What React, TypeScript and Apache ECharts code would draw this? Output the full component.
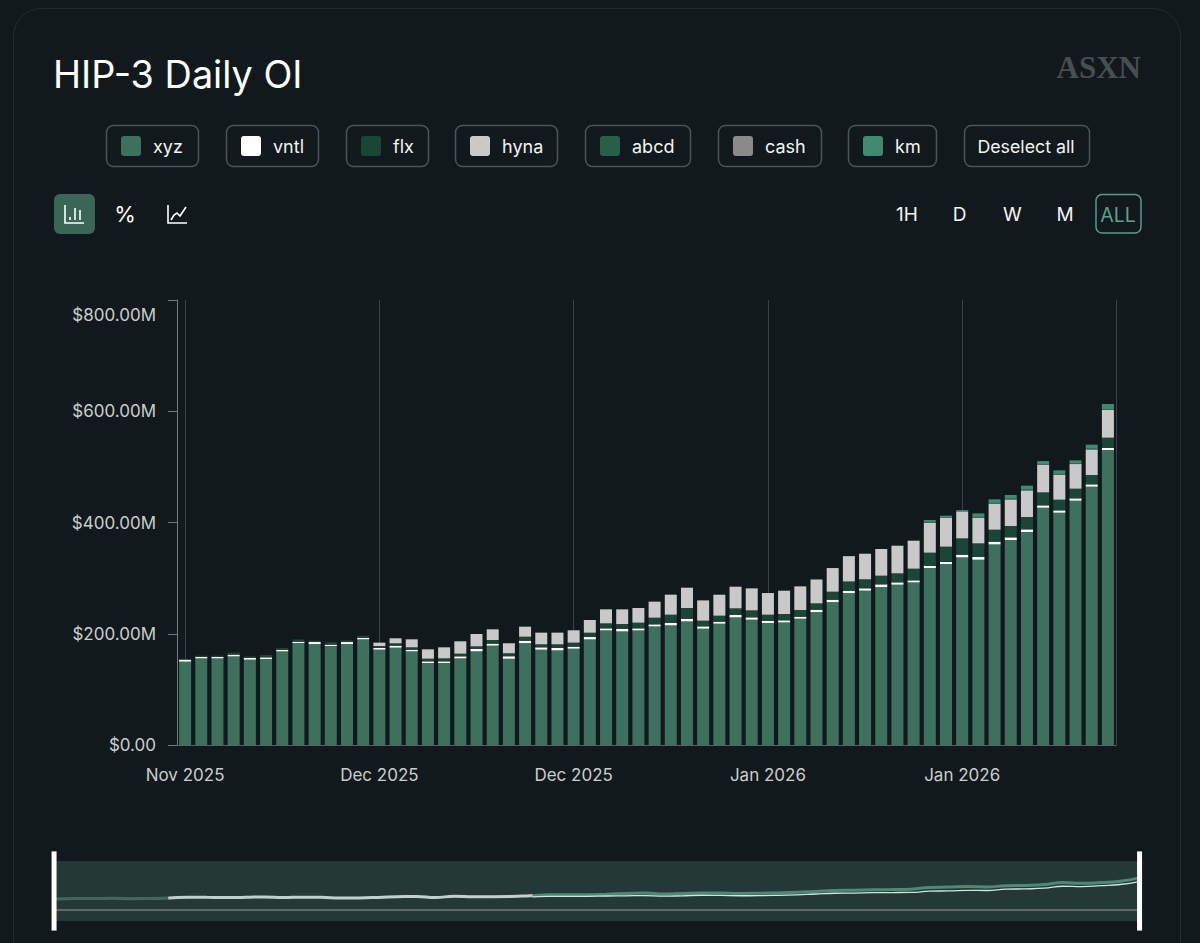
import { useEffect, useRef } from "react";
import * as echarts from "echarts";

// one entry per day, the axis only prints the month
const DATES = [
  "2025-11-28", "2025-11-29", "2025-11-30", "2025-12-01", "2025-12-02", "2025-12-03", "2025-12-04", "2025-12-05",
  "2025-12-06", "2025-12-07", "2025-12-08", "2025-12-09", "2025-12-10", "2025-12-11", "2025-12-12", "2025-12-13",
  "2025-12-14", "2025-12-15", "2025-12-16", "2025-12-17", "2025-12-18", "2025-12-19", "2025-12-20", "2025-12-21",
  "2025-12-22", "2025-12-23", "2025-12-24", "2025-12-25", "2025-12-26", "2025-12-27", "2025-12-28", "2025-12-29",
  "2025-12-30", "2025-12-31", "2026-01-01", "2026-01-02", "2026-01-03", "2026-01-04", "2026-01-05", "2026-01-06",
  "2026-01-07", "2026-01-08", "2026-01-09", "2026-01-10", "2026-01-11", "2026-01-12", "2026-01-13", "2026-01-14",
  "2026-01-15", "2026-01-16", "2026-01-17", "2026-01-18", "2026-01-19", "2026-01-20", "2026-01-21", "2026-01-22",
  "2026-01-23", "2026-01-24",
];

const XYZ = [
  149.8, 155.8, 155.8, 159.4, 153.4, 154.6, 168.4, 183.3, 181.5, 178, 181.5, 190, 171.4, 175, 168.4, 147.4, 147.4, 155.8, 168.4, 178.6,
  155.2, 183.3, 171.4, 170.2, 173.2, 189.9, 206.1, 204.3, 206.1, 213.3, 215.1, 222.3, 209.1, 218.1, 229.5, 225.3, 219.3, 220.5, 227.1,
  239, 257, 273, 277.5, 284, 288.2, 292.4, 318.2, 325.4, 337.3, 333.1, 360.7, 368.5, 382.9, 426.6, 417.6, 439.2, 464.4, 530.3,
];
const VNTL = [
  3.6, 2.4, 2.4, 3, 3, 3, 2.4, 2.4, 3.6, 2.4, 3.6, 2.4, 3, 3.6, 3, 3, 3, 3.6, 4.2, 3.6,
  4.2, 4.2, 4.2, 4.2, 3.6, 4.2, 3.6, 4.2, 3.6, 3.6, 4.2, 4.2, 4.2, 3.6, 4.2, 4.2, 3.6, 3.6, 3.6,
  4.2, 4.2, 4.2, 4.2, 4.8, 4.2, 3.6, 3.6, 3.6, 4.8, 4.8, 4.8, 4.8, 4.8, 4.2, 4.2, 4.2, 4.2, 3.6,
];
const FLX = [
  0.6, 2.4, 2.4, 3.6, 3, 4.2, 3.6, 4.2, 2.4, 4.2, 3, 4.2, 3.6, 4.2, 4.2, 4.8, 5.4, 4.8, 4.8, 6.6,
  5.4, 7.2, 5.4, 6.6, 7.2, 7.8, 9, 9, 10.2, 12, 15, 19.8, 10.2, 10.8, 12, 12.6, 11.4, 11.4, 12,
  11.4, 14.4, 16.8, 16.2, 15.6, 16.2, 21, 24, 27.6, 29.4, 24.6, 21.6, 20.4, 22.2, 23.4, 19.2, 17.4, 16.8, 18.6,
];
const HYNA = [
  0, 0, 0, 0, 0, 0, 0, 0, 0, 0, 0, 0, 6, 9, 14.4, 16.8, 19.8, 22.2, 22.2, 19.2,
  18, 18, 21, 21, 22.2, 22.8, 25.2, 26.4, 26.4, 28.8, 36, 36.5, 36.5, 37.7, 38.9, 39.5, 38.9, 41.9, 42.5,
  43, 42.5, 45.5, 46, 48, 49.7, 50.3, 53.9, 52.1, 48.5, 46.1, 46.7, 47.9, 47.9, 49.7, 44.9, 44.3, 46.1, 49.7,
];
const ABCD = [
  0, 0, 0, 0, 0, 0, 0, 0, 0, 0, 0, 0, 0, 0, 0, 0, 0, 0, 0, 0,
  0, 0, 0, 0, 0, 0, 0, 0, 0, 0, 0, 0, 0, 0, 0, 0, 0, 0, 0,
  0, 0, 0, 0, 0, 0, 0, 0.8, 0.6, 0.4, 0.8, 0.8, 0.8, 0.8, 0.6, 0.8, 0.6, 0.8, 0.8,
];
const CASH = [
  0, 0, 0, 0, 0, 0, 0, 0, 0, 0, 0, 0, 0, 0, 0, 0, 0, 0, 0, 0,
  0, 0, 0, 0, 0, 0, 0, 0, 0, 0, 0, 0, 0, 0, 0, 0, 0, 0, 0,
  0, 0, 0, 0, 0, 0, 0, 0.6, 0.6, 0.4, 0.6, 0.6, 0.6, 0.6, 0.6, 0.6, 0.6, 0.6, 0.6,
];
const KM = [
  0, 0, 0, 0, 0, 0, 0, 0, 0, 0, 0, 0, 0, 0, 0, 0, 0, 0, 0, 0,
  0, 0, 0, 0, 0, 0, 0, 0, 0, 0, 0, 0, 0, 0, 0, 0, 0, 0, 0,
  0, 0, 0, 0, 0, 0, 0, 3.4, 2.4, 1.6, 6.4, 6.4, 6.4, 7, 5.4, 6.4, 5.4, 7, 9.4,
];

const NAMES = ["xyz", "vntl", "flx", "hyna", "abcd", "cash", "km"];
const VALUES = [XYZ, VNTL, FLX, HYNA, ABCD, CASH, KM];
const COLORS = ["#3d705d", "#ffffff", "#1b4534", "#c9c9c9", "#285f4a", "#8a8a8a", "#3f8a70"];

const Y_TICKS = ["$0.00", "$200.00M", "$400.00M", "$600.00M", "$800.00M"];
const RANGES = ["1H", "D", "W", "M"];
const MONTHS = ["Jan", "Feb", "Mar", "Apr", "May", "Jun", "Jul", "Aug", "Sep", "Oct", "Nov", "Dec"];

const FONT = "Inter, 'Noto Sans', sans-serif";
const BG = "#11191c";
const LABEL = "#c9cecd";
const CHIP_BORDER = "#4c5355";
const GRID_LINE = "#3b4144";

// left and right edge of each legend chip
const CHIP_EDGES = [
  [106, 198], [226, 318], [346, 428], [455, 557], [585, 690], [718, 821], [848, 936],
];

function sumAt(series: number[][], i: number) {
  return series.reduce((acc, s) => acc + s[i], 0);
}

function monthLabel(date: string) {
  const [year, month] = date.split("-");
  return `${MONTHS[Number(month) - 1]} ${year}`;
}

function text(str: string, x: number, y: number, size: number, fill: string, align = "center", font = FONT, weight = 400) {
  return {
    type: "text",
    x,
    y,
    style: {
      text: str,
      fill,
      font: `${weight} ${size}px ${font}`,
      textAlign: align,
      textVerticalAlign: "middle",
    },
  };
}

function chip(x0: number, x1: number) {
  return {
    type: "rect",
    shape: { x: x0 + 0.5, y: 125.5, width: x1 - x0, height: 41, r: 7 },
    style: { fill: "transparent", stroke: CHIP_BORDER, lineWidth: 1.5 },
  };
}

function iconLine(points: number[][], width = 1.6) {
  return {
    type: "polyline",
    shape: { points },
    style: { stroke: "#ffffff", fill: "none", lineWidth: width },
  };
}

function buildGraphics() {
  const els: any[] = [
    {
      type: "rect",
      shape: { x: 13.5, y: 8.5, width: 1167, height: 1000, r: 28 },
      style: { fill: "transparent", stroke: "#242c2f", lineWidth: 1 },
    },
    text("HIP-3 Daily OI", 53, 74, 37.8, "#ffffff", "left"),
    text("ASXN", 1141, 67, 31, "#474f51", "right", "'Liberation Serif', serif", 700),
  ];

  NAMES.forEach((name, i) => {
    const [x0, x1] = CHIP_EDGES[i];
    els.push(chip(x0, x1));
    els.push({
      type: "rect",
      shape: { x: x0 + 15, y: 136, width: 20, height: 20, r: 3 },
      style: { fill: COLORS[i] },
    });
    els.push(text(name, x0 + 47, 146.5, 18, "#f2f4f3", "left"));
  });
  els.push(chip(964, 1089));
  els.push(text("Deselect all", 1026, 146.5, 17.8, "#f2f4f3"));

  // chart type buttons
  els.push({
    type: "rect",
    shape: { x: 54, y: 194, width: 41, height: 40, r: 6 },
    style: { fill: "#3a6658" },
  });
  els.push(iconLine([[65, 205], [65, 223], [84, 223]]));
  els.push(iconLine([[70, 217], [70, 220]]));
  els.push(iconLine([[75, 208], [75, 220]]));
  els.push(iconLine([[80, 210], [80, 220]]));
  els.push(text("%", 125, 214, 22, "#ffffff"));
  els.push(iconLine([[168, 205], [168, 223], [187, 223]]));
  els.push(iconLine([[171, 220], [174, 215], [177, 213], [180, 216], [182, 213], [186, 207]]));

  // time range buttons
  RANGES.forEach((r, i) => {
    els.push(text(r, 907 + i * 52.7, 214.5, 19, "#f2f4f3"));
  });
  els.push({
    type: "rect",
    shape: { x: 1096, y: 194.5, width: 45, height: 38.5, r: 6 },
    style: { fill: "transparent", stroke: "#5b9a86", lineWidth: 1.5 },
  });
  els.push(text("ALL", 1118, 214.5, 19.5, "#5fa08c"));

  // flat line across the overview strip
  els.push({
    type: "rect",
    z: 1,
    shape: { x: 56, y: 909, width: 1083, height: 2 },
    style: { fill: "#5d6a67" },
  });
  return els;
}

export default function App() {
  const chartRef = useRef<HTMLDivElement>(null);

  useEffect(() => {
    if (!chartRef.current) return;
    const chart = echarts.init(chartRef.current, null, { renderer: "svg" });

    const below = DATES.map((_, i) => sumAt([XYZ, VNTL], i));
    const total = DATES.map((_, i) => sumAt(VALUES, i));

    chart.setOption({
      animation: false,
      backgroundColor: BG,
      graphic: buildGraphics(),
      grid: [
        { left: 177, right: 84, top: 300, bottom: 198 },
        { left: 55, right: 61, top: 861, height: 60, show: true, backgroundColor: "#243835", borderWidth: 0 },
      ],
      xAxis: [
        {
          type: "category",
          data: DATES,
          axisLine: { lineStyle: { color: "#5a6163" } },
          axisTick: { show: false },
          axisLabel: {
            interval: (i: number) => i % 12 === 0 && i < 57,
            color: LABEL,
            fontFamily: FONT,
            fontSize: 17,
            margin: 21,
            formatter: monthLabel,
          },
          splitLine: {
            show: true,
            alignWithLabel: true,
            interval: (i: number) => i % 12 === 0 && i < 57,
            lineStyle: { color: GRID_LINE, width: 1 },
          },
        },
        { type: "category", gridIndex: 1, data: DATES, boundaryGap: false, show: false },
      ],
      yAxis: [
        {
          type: "value",
          min: 0,
          max: 800,
          interval: 200,
          axisLine: { show: true, lineStyle: { color: "#747a7c" } },
          axisTick: { show: true, length: 9, lineStyle: { color: "#747a7c" } },
          axisLabel: {
            color: LABEL,
            fontFamily: FONT,
            fontSize: 17,
            margin: 21,
            // the top label sits lower than its tick
            formatter: (_: number, i: number) =>
              i === Y_TICKS.length - 1 ? `{top|${Y_TICKS[i]}}` : Y_TICKS[i],
            rich: {
              top: { color: LABEL, fontFamily: FONT, fontSize: 17, padding: [30, 0, 0, 0] },
            },
          },
          splitLine: { show: false },
        },
        {
          // only there for the thin line at the right edge
          type: "value",
          position: "right",
          min: 0,
          max: 800,
          interval: 200,
          axisLine: { show: true, lineStyle: { color: GRID_LINE } },
          axisTick: { show: false },
          axisLabel: { show: false },
          splitLine: { show: false },
        },
        { type: "value", gridIndex: 1, min: -330, max: 983, show: false, splitLine: { show: false } },
      ],
      dataZoom: [
        {
          type: "slider",
          xAxisIndex: [0],
          filterMode: "none",
          start: 0,
          end: 100,
          left: 53,
          right: 59.5,
          top: 861,
          height: 60,
          showDetail: false,
          showDataShadow: false,
          brushSelect: false,
          moveHandleSize: 0,
          backgroundColor: "transparent",
          borderColor: "transparent",
          fillerColor: "transparent",
          handleIcon: "path://M0 0H5V79H0Z",
          handleSize: "132%",
          handleStyle: { color: "#ffffff", borderWidth: 0 },
        },
      ],
      series: [
        ...NAMES.map((name, i) => ({
          name,
          type: "bar",
          stack: "oi",
          barWidth: 12,
          data: VALUES[i],
          itemStyle: { color: COLORS[i] },
        })),
        {
          name: "overview total",
          type: "line",
          xAxisIndex: 1,
          yAxisIndex: 2,
          data: total,
          showSymbol: false,
          smooth: true,
          lineStyle: {
            width: 3,
            color: new echarts.graphic.LinearGradient(0, 0, 1, 0, [
              { offset: 0, color: "#43685a" },
              { offset: 0.104, color: "#43685a" },
              { offset: 0.105, color: "#c3d0ca" },
              { offset: 0.44, color: "#c3d0ca" },
              { offset: 0.441, color: "#4b8a74" },
              { offset: 1, color: "#4b8a74" },
            ]),
          },
        },
        {
          name: "overview base",
          type: "line",
          xAxisIndex: 1,
          yAxisIndex: 2,
          data: below,
          showSymbol: false,
          smooth: true,
          lineStyle: {
            width: 1.3,
            color: new echarts.graphic.LinearGradient(0, 0, 1, 0, [
              { offset: 0, color: "rgba(200,220,212,0)" },
              { offset: 0.44, color: "rgba(200,220,212,0)" },
              { offset: 0.441, color: "#d4e4dd" },
              { offset: 1, color: "#d4e4dd" },
            ]),
          },
        },
      ],
    });

    return () => chart.dispose();
  }, []);

  return (
    <div
      ref={chartRef}
      style={{ position: "fixed", left: 0, top: 0, width: "1200px", height: "943px", background: BG }}
    />
  );
}
